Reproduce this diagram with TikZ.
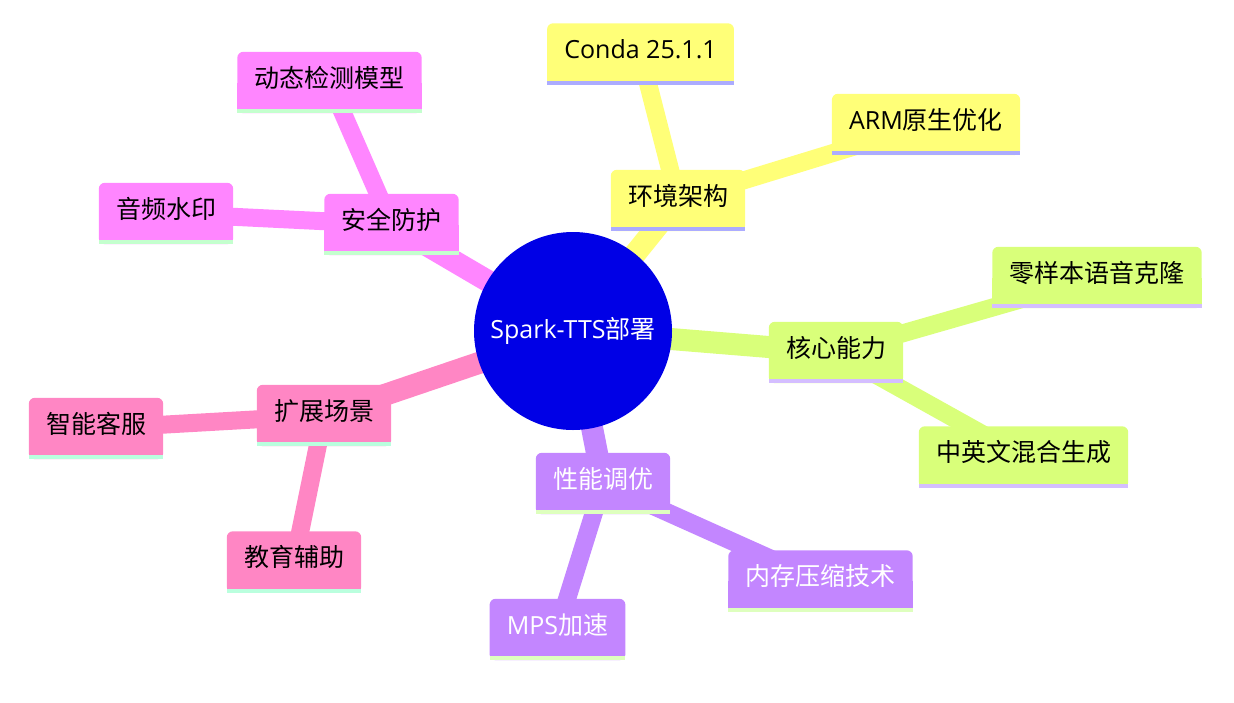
\documentclass[tikz,border=0pt]{standalone}
\usepackage{fontspec}
\setmainfont{Open Sans}
\newfontfamily\cjkfont{Noto Sans CJK SC}
\newcommand{\zh}[1]{{\cjkfont #1}}
\usepackage{xcolor}
\usepackage{tikz}
\usetikzlibrary{backgrounds}

\definecolor{rootblue}{RGB}{0,0,230}
\definecolor{envfill}{RGB}{255,255,120}
\definecolor{envline}{RGB}{172,172,255}
\definecolor{corefill}{RGB}{217,255,122}
\definecolor{coreline}{RGB}{212,190,255}
\definecolor{perffill}{RGB}{195,134,255}
\definecolor{perfline}{RGB}{222,255,190}
\definecolor{extfill}{RGB}{255,134,196}
\definecolor{extline}{RGB}{186,255,222}
\definecolor{secfill}{RGB}{255,134,255}
\definecolor{secline}{RGB}{196,255,206}

% box behind a topic node: round top, flat bottom, coloured stripe
\newcommand{\mmbox}[3]{%
  \fill[#2, rounded corners=6pt] (#1.south west) rectangle (#1.north east);
  \fill[#2] (#1.south west) rectangle (#1.east);
  \fill[#3] (#1.south west) rectangle ([yshift=4pt]#1.south east);
}

\begin{document}
\begin{tikzpicture}[x=1pt, y=-1pt, font=\fontsize{25}{30}\selectfont,
    topic/.style={inner xsep=17pt, inner ysep=0pt, text height=35pt, text depth=26pt},
    dark/.style={topic, text=white},
    trunk/.style={line width=22pt},
    twig/.style={line width=18pt}]
        \useasboundingbox (0,0) rectangle (1234,702);

        \node[circle, fill=rootblue, text=white, minimum size=198pt, inner sep=0pt] (root) at (573,331) {Spark-TTS\zh{部署}};

        \node[topic] (env)     at (678,200.5)  {\zh{环境架构}};
        \node[topic] (conda)   at (640.5,54)   {Conda 25.1.1};
        \node[topic] (arm)     at (926,124.5)  {ARM\zh{原生优化}};

        \node[topic] (core)    at (836,352.5)  {\zh{核心能力}};
        \node[topic] (clone)   at (1097,277.5) {\zh{零样本语音克隆}};
        \node[topic] (mixgen)  at (1023.5,457) {\zh{中英文混合生成}};

        \node[dark]  (perf)    at (603,483.5)  {\zh{性能调优}};
        \node[dark]  (mem)     at (820.5,581)  {\zh{内存压缩技术}};
        \node[dark]  (mps)     at (557.5,629.5) {MPS\zh{加速}};

        \node[topic] (ext)     at (324,415.5)  {\zh{扩展场景}};
        \node[topic] (service) at (96,428.5)   {\zh{智能客服}};
        \node[topic] (edu)     at (294,562)    {\zh{教育辅助}};

        \node[topic] (sec)     at (391.5,224.5) {\zh{安全防护}};
        \node[topic] (detect)  at (329.5,82.5) {\zh{动态检测模型}};
        \node[topic] (mark)    at (166,213.5)  {\zh{音频水印}};

        \begin{scope}[on background layer]
        \path[trunk]
        (root.center) edge [envfill] (env.center)
                      edge [corefill] (core.center)
                      edge [perffill] (perf.center)
                      edge [extfill] (ext.center)
                      edge [secfill] (sec.center);

        \path[twig]
        (env.center)  edge [envfill] (conda.center)
                      edge [envfill] (arm.center)
        (core.center) edge [corefill] (clone.center)
                      edge [corefill] (mixgen.center)
        (perf.center) edge [perffill] (mem.center)
                      edge [perffill] (mps.center)
        (ext.center)  edge [extfill] (service.center)
                      edge [extfill] (edu.center)
        (sec.center)  edge [secfill] (detect.center)
                      edge [secfill] (mark.center);

        \mmbox{env}{envfill}{envline}
        \mmbox{conda}{envfill}{envline}
        \mmbox{arm}{envfill}{envline}
        \mmbox{core}{corefill}{coreline}
        \mmbox{clone}{corefill}{coreline}
        \mmbox{mixgen}{corefill}{coreline}
        \mmbox{perf}{perffill}{perfline}
        \mmbox{mem}{perffill}{perfline}
        \mmbox{mps}{perffill}{perfline}
        \mmbox{ext}{extfill}{extline}
        \mmbox{service}{extfill}{extline}
        \mmbox{edu}{extfill}{extline}
        \mmbox{sec}{secfill}{secline}
        \mmbox{detect}{secfill}{secline}
        \mmbox{mark}{secfill}{secline}
        \end{scope}
    \end{tikzpicture}
\end{document}
